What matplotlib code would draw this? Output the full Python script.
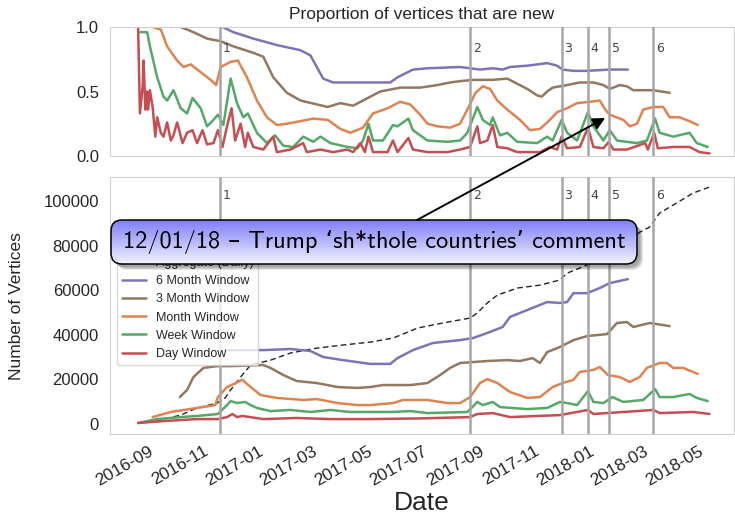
import numpy as np
import pandas as pd
import matplotlib
matplotlib.use('Agg')
import matplotlib.pyplot as plt
import matplotlib.dates as mdates
from matplotlib.patches import FancyBboxPatch
import seaborn as sns

# ---------------- data ----------------
events = ['2016-11-11', '2017-08-14', '2017-11-23', '2017-12-22', '2018-01-14', '2018-03-04']

# top panel: proportion of vertices that are new
p6m_dates = ['2016-11-14', '2016-11-26', '2016-12-18', '2017-01-13', '2017-02-08', '2017-02-19',
             '2017-02-26', '2017-03-05', '2017-03-16', '2017-04-15', '2017-05-18', '2017-05-26',
             '2017-06-12', '2017-06-28', '2017-08-03', '2017-08-14', '2017-08-25', '2017-09-08',
             '2017-09-19', '2017-09-27', '2017-10-16', '2017-11-07', '2017-11-18', '2017-11-24',
             '2017-12-06', '2017-12-21', '2018-01-15', '2018-02-04']
p6m_vals = [1.00, 0.96, 0.91, 0.86, 0.82, 0.78, 0.69, 0.60, 0.57, 0.57, 0.57, 0.61, 0.67, 0.68,
            0.69, 0.68, 0.67, 0.68, 0.67, 0.69, 0.70, 0.72, 0.70, 0.67, 0.66, 0.66, 0.67, 0.67]

p3m_dates = ['2016-09-29', '2016-10-13', '2016-10-28', '2016-11-12', '2016-11-26', '2016-12-18',
             '2016-12-29', '2017-01-09', '2017-01-24', '2017-02-08', '2017-02-26', '2017-03-10',
             '2017-03-24', '2017-04-07', '2017-04-18', '2017-04-26', '2017-05-07', '2017-05-29',
             '2017-06-20', '2017-07-09', '2017-07-23', '2017-08-03', '2017-08-17', '2017-09-08',
             '2017-09-24', '2017-10-05', '2017-10-16', '2017-10-27', '2017-11-01', '2017-11-07',
             '2017-11-13', '2017-11-29', '2017-12-13', '2017-12-28', '2018-01-08', '2018-01-15',
             '2018-01-26', '2018-02-03', '2018-02-10', '2018-03-04', '2018-03-22']
p3m_vals = [1.00, 0.96, 0.91, 0.89, 0.85, 0.80, 0.77, 0.61, 0.49, 0.43, 0.40, 0.38, 0.41, 0.39,
            0.43, 0.46, 0.50, 0.53, 0.53, 0.55, 0.57, 0.58, 0.59, 0.59, 0.60, 0.56, 0.52, 0.47,
            0.46, 0.50, 0.53, 0.55, 0.57, 0.57, 0.55, 0.52, 0.55, 0.54, 0.51, 0.51, 0.49]

pm_dates = ['2016-08-29', '2016-09-07', '2016-09-14', '2016-09-25', '2016-10-02', '2016-10-10',
            '2016-10-21', '2016-11-01', '2016-11-07', '2016-11-12', '2016-11-23', '2016-12-01',
            '2016-12-11', '2016-12-22', '2017-01-02', '2017-01-13', '2017-01-24', '2017-02-08',
            '2017-02-22', '2017-03-10', '2017-03-24', '2017-04-04', '2017-04-18', '2017-04-29',
            '2017-05-15', '2017-05-29', '2017-06-09', '2017-06-20', '2017-06-28', '2017-07-09',
            '2017-07-23', '2017-08-03', '2017-08-11', '2017-08-20', '2017-08-28', '2017-09-05',
            '2017-09-13', '2017-09-24', '2017-10-08', '2017-10-19', '2017-10-30', '2017-11-10',
            '2017-11-18', '2017-11-29', '2017-12-10', '2017-12-24', '2018-01-04', '2018-01-10',
            '2018-01-15', '2018-01-30', '2018-02-06', '2018-02-14', '2018-02-21', '2018-03-04',
            '2018-03-15', '2018-03-22', '2018-04-02', '2018-04-13', '2018-04-22']
pm_vals = [1.00, 0.98, 0.85, 0.74, 0.69, 0.71, 0.65, 0.59, 0.55, 0.69, 0.73, 0.74, 0.61, 0.43,
           0.30, 0.24, 0.25, 0.27, 0.29, 0.28, 0.21, 0.18, 0.22, 0.33, 0.37, 0.42, 0.40, 0.32,
           0.25, 0.23, 0.22, 0.25, 0.36, 0.49, 0.54, 0.52, 0.43, 0.36, 0.28, 0.20, 0.21, 0.28,
           0.34, 0.37, 0.41, 0.42, 0.43, 0.36, 0.32, 0.28, 0.23, 0.25, 0.36, 0.38, 0.38, 0.30,
           0.30, 0.27, 0.24]

pw_dates = ['2016-08-15', '2016-08-23', '2016-08-26', '2016-09-03', '2016-09-10', '2016-09-14',
            '2016-09-21', '2016-09-29', '2016-10-06', '2016-10-12', '2016-10-21', '2016-10-28',
            '2016-11-04', '2016-11-09', '2016-11-15', '2016-11-23', '2016-11-30', '2016-12-07',
            '2016-12-12', '2016-12-22', '2017-01-02', '2017-01-11', '2017-01-20', '2017-01-31',
            '2017-02-11', '2017-02-22', '2017-03-02', '2017-03-13', '2017-04-01', '2017-04-12',
            '2017-04-18', '2017-04-24', '2017-04-29', '2017-05-10', '2017-05-21', '2017-05-26',
            '2017-06-07', '2017-06-12', '2017-06-28', '2017-07-20', '2017-08-03', '2017-08-11',
            '2017-08-22', '2017-08-28', '2017-09-05', '2017-09-08', '2017-09-16', '2017-09-24',
            '2017-10-05', '2017-10-27', '2017-11-07', '2017-11-13', '2017-11-23', '2017-11-29',
            '2017-12-10', '2017-12-22', '2017-12-28', '2018-01-08', '2018-01-15', '2018-01-23',
            '2018-02-14', '2018-02-25', '2018-03-06', '2018-03-11', '2018-03-26', '2018-04-13',
            '2018-04-21', '2018-05-03']
pw_vals = [0.96, 0.96, 0.85, 0.61, 0.46, 0.43, 0.51, 0.37, 0.33, 0.45, 0.37, 0.23, 0.28, 0.32,
           0.24, 0.60, 0.41, 0.30, 0.33, 0.18, 0.10, 0.16, 0.08, 0.07, 0.15, 0.11, 0.15, 0.10,
           0.07, 0.06, 0.12, 0.25, 0.12, 0.12, 0.24, 0.23, 0.29, 0.20, 0.12, 0.11, 0.12, 0.18,
           0.38, 0.28, 0.24, 0.30, 0.16, 0.18, 0.11, 0.10, 0.15, 0.12, 0.28, 0.18, 0.12, 0.34,
           0.23, 0.12, 0.20, 0.12, 0.10, 0.12, 0.29, 0.18, 0.15, 0.18, 0.10, 0.07]

pd_dates = ['2016-08-13', '2016-08-15', '2016-08-18', '2016-08-19', '2016-08-21', '2016-08-23',
            '2016-08-24', '2016-08-26', '2016-08-29', '2016-09-01', '2016-09-03', '2016-09-07',
            '2016-09-10', '2016-09-14', '2016-09-18', '2016-09-21', '2016-09-25', '2016-10-01',
            '2016-10-06', '2016-10-12', '2016-10-17', '2016-10-23', '2016-10-28', '2016-11-04',
            '2016-11-09', '2016-11-14', '2016-11-19', '2016-11-24', '2016-11-28', '2016-12-04',
            '2016-12-09', '2016-12-12', '2016-12-18', '2016-12-29', '2017-01-09', '2017-01-13',
            '2017-01-28', '2017-02-11', '2017-02-15', '2017-03-02', '2017-03-16', '2017-04-01',
            '2017-04-07', '2017-04-15', '2017-04-20', '2017-04-24', '2017-04-29', '2017-05-15',
            '2017-05-21', '2017-05-26', '2017-06-07', '2017-06-12', '2017-06-28', '2017-07-20',
            '2017-08-03', '2017-08-14', '2017-08-22', '2017-08-25', '2017-09-02', '2017-09-08',
            '2017-09-13', '2017-09-24', '2017-10-05', '2017-10-30', '2017-11-10', '2017-11-18',
            '2017-11-23', '2017-11-29', '2017-12-13', '2017-12-22', '2017-12-28', '2018-01-08',
            '2018-01-14', '2018-01-19', '2018-02-03', '2018-02-23', '2018-02-26', '2018-03-05',
            '2018-03-09', '2018-03-26', '2018-04-13', '2018-04-24', '2018-05-05']
pd_vals = [1.00, 0.33, 0.54, 0.74, 0.36, 0.50, 0.36, 0.51, 0.38, 0.15, 0.30, 0.18, 0.15, 0.26,
           0.12, 0.16, 0.26, 0.10, 0.18, 0.20, 0.10, 0.20, 0.09, 0.10, 0.20, 0.07, 0.23, 0.37,
           0.12, 0.25, 0.07, 0.18, 0.07, 0.05, 0.15, 0.03, 0.05, 0.10, 0.03, 0.05, 0.03, 0.05,
           0.03, 0.10, 0.03, 0.15, 0.03, 0.03, 0.12, 0.03, 0.14, 0.05, 0.03, 0.03, 0.05, 0.07,
           0.23, 0.10, 0.12, 0.24, 0.07, 0.06, 0.03, 0.03, 0.07, 0.05, 0.15, 0.06, 0.07, 0.22,
           0.07, 0.06, 0.11, 0.05, 0.05, 0.10, 0.05, 0.18, 0.06, 0.07, 0.07, 0.03, 0.02]

# bottom panel: number of vertices
agg_dates = ['2016-08-13', '2016-09-03', '2016-09-29', '2016-10-17', '2016-11-08', '2016-11-17',
             '2016-11-23', '2016-12-04', '2016-12-15', '2017-01-06', '2017-01-28', '2017-02-26',
             '2017-03-27', '2017-04-26', '2017-05-21', '2017-06-17', '2017-07-15', '2017-08-14',
             '2017-08-22', '2017-09-02', '2017-09-13', '2017-10-05', '2017-10-30', '2017-11-21',
             '2017-11-29', '2017-12-21', '2018-01-12', '2018-01-30', '2018-02-17', '2018-02-28',
             '2018-03-11', '2018-03-26', '2018-04-17', '2018-05-05']
agg_vals = [400, 1500, 4000, 7200, 9400, 11700, 15300, 21100, 26500, 28700, 31900, 34100,
            35500, 36800, 38600, 43100, 45400, 47600, 49900, 54400, 57900, 61100, 62400, 64700,
            67800, 71400, 74600, 79500, 86200, 88500, 94800, 98400, 103800, 106500]

n6m_dates = ['2016-11-17', '2016-12-29', '2017-01-28', '2017-02-19', '2017-03-05', '2017-03-27',
             '2017-04-26', '2017-05-18', '2017-05-26', '2017-06-12', '2017-07-04', '2017-08-03',
             '2017-08-17', '2017-09-02', '2017-09-19', '2017-09-27', '2017-10-16', '2017-11-07',
             '2017-11-21', '2017-11-29', '2017-12-06', '2017-12-21', '2018-01-04', '2018-01-15',
             '2018-02-04']
n6m_vals = [33200, 33200, 33700, 32800, 30100, 28700, 27000, 27000, 29600, 33200, 36400, 37700,
            38600, 40900, 43600, 48100, 51200, 54800, 54400, 54800, 58800, 58800, 61100, 63300,
            65100]

n3m_dates = ['2016-09-28', '2016-10-06', '2016-10-13', '2016-10-24', '2016-11-08', '2016-11-23',
             '2016-12-29', '2017-01-06', '2017-01-20', '2017-02-04', '2017-02-26', '2017-03-21',
             '2017-04-12', '2017-04-26', '2017-05-10', '2017-06-09', '2017-06-28', '2017-07-12',
             '2017-07-23', '2017-08-03', '2017-09-02', '2017-09-24', '2017-10-08', '2017-10-22',
             '2017-10-30', '2017-11-07', '2017-11-21', '2017-12-06', '2017-12-21', '2018-01-12',
             '2018-01-23', '2018-02-03', '2018-02-10', '2018-02-28', '2018-03-22']
n3m_vals = [12100, 15300, 21100, 25200, 26000, 26000, 26500, 25200, 22000, 19300, 18400, 16600,
            16200, 16600, 17500, 17500, 18400, 22000, 25200, 27400, 28300, 28700, 28300, 29600,
            27400, 32300, 34600, 37700, 39500, 40400, 45400, 45800, 43600, 45400, 44000]

nm_dates = ['2016-08-29', '2016-09-18', '2016-10-17', '2016-11-06', '2016-11-09', '2016-11-19',
            '2016-12-06', '2016-12-15', '2016-12-26', '2017-01-13', '2017-02-11', '2017-02-26',
            '2017-03-21', '2017-04-12', '2017-04-26', '2017-05-21', '2017-06-01', '2017-06-28',
            '2017-07-20', '2017-08-03', '2017-08-14', '2017-08-25', '2017-09-02', '2017-09-13',
            '2017-09-27', '2017-10-16', '2017-10-30', '2017-11-13', '2017-11-24', '2017-12-06',
            '2017-12-13', '2017-12-28', '2018-01-04', '2018-01-13', '2018-01-26', '2018-02-06',
            '2018-02-17', '2018-02-25', '2018-03-11', '2018-03-19', '2018-03-26', '2018-04-06',
            '2018-04-22']
nm_vals = [3100, 5400, 7200, 8500, 12100, 16600, 19800, 16600, 13000, 11700, 10800, 11200, 9400,
           8500, 8500, 9400, 10800, 10800, 9400, 9400, 12100, 18400, 20200, 18400, 14400, 11700,
           12100, 16600, 18400, 19800, 23400, 24300, 25600, 22000, 21100, 18900, 21100, 25200,
           27400, 27400, 25200, 25200, 22500]

nw_dates = ['2016-08-13', '2016-09-03', '2016-09-29', '2016-10-17', '2016-11-09', '2016-11-19',
            '2016-11-23', '2016-11-30', '2016-12-09', '2016-12-15', '2016-12-22', '2017-01-06',
            '2017-01-28', '2017-02-19', '2017-03-13', '2017-04-04', '2017-04-26', '2017-05-21',
            '2017-06-09', '2017-06-28', '2017-08-11', '2017-08-22', '2017-08-28', '2017-09-08',
            '2017-09-16', '2017-10-16', '2017-11-07', '2017-11-21', '2017-11-29', '2017-12-10',
            '2017-12-22', '2017-12-28', '2018-01-08', '2018-01-18', '2018-01-30', '2018-02-21',
            '2018-03-06', '2018-03-11', '2018-03-26', '2018-04-13', '2018-04-21', '2018-05-03']
nw_vals = [450, 2200, 3100, 3600, 4500, 8500, 10300, 9400, 9900, 8500, 7200, 5800, 6300, 5400,
           6300, 5400, 5400, 5400, 5800, 4900, 5400, 9900, 8500, 9900, 7600, 6700, 7200, 9900,
           9400, 8500, 14800, 9900, 9400, 12100, 9900, 10800, 15700, 12100, 12100, 13500, 11700,
           10300]

nd_dates = ['2016-08-13', '2016-09-10', '2016-10-17', '2016-11-09', '2016-11-19', '2016-11-25',
            '2016-11-30', '2016-12-06', '2016-12-29', '2017-02-04', '2017-03-13', '2017-04-26',
            '2017-06-20', '2017-08-14', '2017-08-22', '2017-09-08', '2017-09-27', '2017-11-21',
            '2017-12-22', '2017-12-28', '2018-03-04', '2018-03-11', '2018-04-17', '2018-05-05']
nd_vals = [450, 1300, 2200, 2200, 3100, 4500, 3100, 3600, 2200, 2700, 2200, 2200, 2500, 3100,
           4500, 4900, 3100, 4000, 6300, 4500, 6300, 4900, 5400, 4500]

labels = ['6 Month Window', '3 Month Window', 'Month Window', 'Week Window', 'Day Window']
agg_label = 'Aggregate (Daily)'
note = '12/01/18 \u2013 Trump \u2018sh*thole countries\u2019 comment'
note_target = ('2018-01-10', 0.295)

# ---------------- style ----------------
sns.set_style('white')
plt.rcParams['font.family'] = ['Liberation Sans', 'DejaVu Sans']
plt.rcParams['axes.edgecolor'] = '#d0d0d0'
txt = '#262626'

pal = sns.color_palette('deep')
colors = [pal[4], pal[5], pal[1], pal[2], pal[3]]

fig = plt.figure(figsize=(7.35, 5.17), dpi=100)
W, H = 735, 517
ax_top = fig.add_axes([110 / W, (H - 156) / H, 624 / W, 129 / H])
ax_bot = fig.add_axes([110 / W, (H - 434) / H, 624 / W, 257 / H], sharex=ax_top)

top_series = [(p6m_dates, p6m_vals), (p3m_dates, p3m_vals), (pm_dates, pm_vals),
              (pw_dates, pw_vals), (pd_dates, pd_vals)]
bot_series = [(n6m_dates, n6m_vals), (n3m_dates, n3m_vals), (nm_dates, nm_vals),
              (nw_dates, nw_vals), (nd_dates, nd_vals)]

for (d, v), c in zip(top_series, colors):
    ax_top.plot(pd.to_datetime(d), v, color=c, lw=1.8)

ax_bot.plot(pd.to_datetime(agg_dates), agg_vals, color='#222222', lw=1.0, ls='--',
            dashes=(4, 2.5), label=agg_label)
for (d, v), c, lab in zip(bot_series, colors, labels):
    ax_bot.plot(pd.to_datetime(d), v, color=c, lw=1.8, label=lab)

# event lines with numbers
for i, e in enumerate(pd.to_datetime(events)):
    for ax, ytxt in ((ax_top, 0.837), (ax_bot, 102900)):
        ax.axvline(e, color='#a6a6a6', lw=1.8, zorder=3)
        ax.annotate(str(i + 1), xy=(e, ytxt), xytext=(2, 0), textcoords='offset points',
                    ha='left', va='center', fontsize=9, color='#444444',
                    family=['Humor Sans', 'DejaVu Sans'])

ax_top.set_ylim(0, 1.0)
ax_top.set_yticks([0.0, 0.5, 1.0])
ax_top.set_yticklabels(['0.0', '0.5', '1.0'])
ax_bot.set_ylim(-4500, 111000)
ax_bot.set_yticks([0, 20000, 40000, 60000, 80000, 100000])
ax_bot.set_xlim(pd.Timestamp('2016-07-13'), pd.Timestamp('2018-06-01'))

ax_bot.xaxis.set_major_locator(mdates.MonthLocator(bymonth=[1, 3, 5, 7, 9, 11]))
ax_bot.xaxis.set_major_formatter(mdates.DateFormatter('%Y-%m'))
for ax in (ax_top, ax_bot):
    ax.tick_params(length=0, labelsize=12, colors=txt, pad=8)
ax_top.tick_params(labelbottom=False)
ax_bot.tick_params(axis='x', labelsize=12.5, pad=7)
for lab in ax_bot.get_xticklabels():
    lab.set_rotation(30)
    lab.set_ha('right')

fig.text(422 / W, 1 - 15 / H, 'Proportion of vertices that are new', ha='center', va='center',
         fontsize=12.5, color=txt)
fig.text(17 / W, 1 - 306 / H, 'Number of Vertices', rotation=90, ha='center', va='center',
         fontsize=12.5, color=txt)
fig.text(422 / W, 1 - 503 / H, 'Date', ha='center', va='center', fontsize=19, color=txt)

ax_bot.legend(loc='lower left', bbox_to_anchor=(0.011, 0.268), borderaxespad=0, fontsize=9,
              labelspacing=0.5, handlelength=1.9, framealpha=0.8, edgecolor='#d0d0d0')

# annotation box with gradient and shadow, drawn on its own axes on top
bx = fig.add_axes([105 / W, (H - 276) / H, 545 / W, 62 / H])
bx.set_axis_off()
x0, y0, bw, bh = 6, 12, 526, 44
for k, off in enumerate([6, 5, 4, 3]):
    bx.add_patch(FancyBboxPatch((x0 + off, y0 - off), bw, bh,
                                boxstyle='round,pad=0,rounding_size=11',
                                fc='#000000', ec='none', alpha=0.10))
box = FancyBboxPatch((x0, y0), bw, bh, boxstyle='round,pad=0,rounding_size=11',
                     fc='none', ec='black', lw=1.1, zorder=3)
bx.add_patch(box)
top_c = np.array([0.50, 0.50, 0.97])
bot_c = np.array([0.95, 0.95, 1.00])
t = np.linspace(0, 1, 64)[:, None, None]
grad = top_c * (1 - t) + bot_c * t
im = bx.imshow(grad, extent=(x0, x0 + bw, y0, y0 + bh), aspect='auto', origin='upper', zorder=2)
im.set_clip_path(box)
bx.text(x0 + bw / 2, y0 + bh / 2, note, ha='center', va='center', fontsize=17.5,
        family=['cmss10', 'DejaVu Sans'], color='black', zorder=4)
bx.set_xlim(0, 545)
bx.set_ylim(0, 62)

tx = mdates.date2num(pd.Timestamp(note_target[0]))
bx.annotate('', xy=(tx, note_target[1]), xycoords=ax_top.transData,
            xytext=(417 - 105, y0 + bh), textcoords='data', annotation_clip=False,
            arrowprops=dict(arrowstyle='-|>', color='black', lw=1.4, mutation_scale=18,
                            shrinkA=0, shrinkB=0))

fig.savefig('out.png', dpi=100)
